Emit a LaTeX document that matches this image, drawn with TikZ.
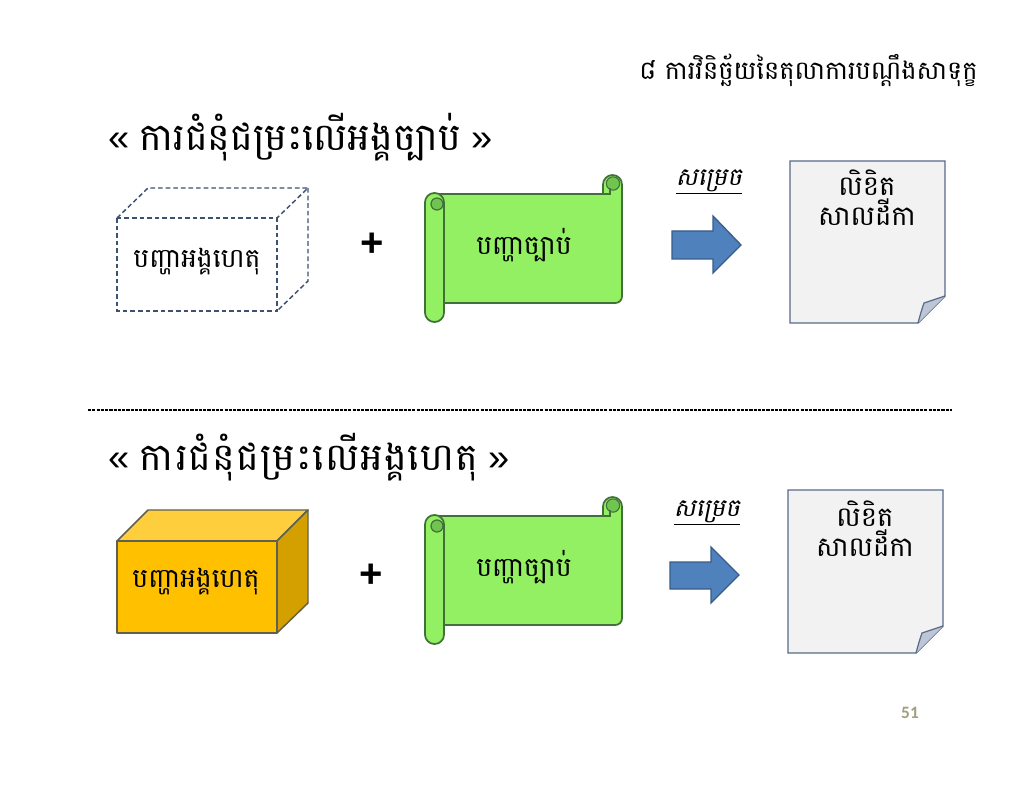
\documentclass[tikz,border=0pt]{standalone}
\usepackage{fontspec}
\setmainfont{Liberation Sans}
\newfontfamily\kh[Script=Khmer]{Battambang}
\newfontfamily\khit[Script=Khmer,FakeSlant=0.2]{Battambang}
\newfontfamily\pgnum{Carlito}
\definecolor{scrollfill}{RGB}{146,240,98}
\definecolor{scrolldark}{RGB}{112,196,80}
\definecolor{scrollline}{RGB}{66,112,58}
\definecolor{dashblue}{RGB}{62,82,112}
\definecolor{boxfront}{RGB}{255,192,0}
\definecolor{boxtop}{RGB}{255,206,60}
\definecolor{boxside}{RGB}{212,160,0}
\definecolor{boxline}{RGB}{96,96,80}
\definecolor{arrowfill}{RGB}{79,129,189}
\definecolor{arrowline}{RGB}{56,93,138}
\definecolor{docfill}{RGB}{242,242,242}
\definecolor{docline}{RGB}{88,106,136}
\definecolor{foldfill}{RGB}{188,198,214}
\definecolor{pagecol}{RGB}{160,160,128}
\tikzset{
  scrollsty/.style={draw=scrollline, fill=scrollfill, line width=1.3pt, line join=round},
  curlsty/.style={draw=scrollline, fill=scrolldark, line width=1.1pt},
  dashbox/.style={draw=dashblue, line width=1.1pt, dash pattern=on 3.5pt off 2.2pt},
  solidbox/.style={draw=boxline, line width=1.1pt, line join=round},
  blockarrow/.style={draw=arrowline, fill=arrowfill, line width=1pt, line join=miter},
  docsty/.style={draw=docline, fill=docfill, line width=1.1pt},
  foldsty/.style={draw=docline, fill=foldfill, line width=0.9pt},
  khtext/.style={font=\kh\fontsize{20}{24}\selectfont, inner sep=0pt},
  doctext/.style={font=\kh\fontsize{20.5}{24}\selectfont, inner sep=0pt},
  dectext/.style={font=\khit\fontsize{18.5}{22}\selectfont, inner sep=0pt},
  plustext/.style={font=\bfseries\fontsize{30}{34}\selectfont, inner sep=0pt},
  titletext/.style={font=\fontsize{28.5}{32}\selectfont, inner sep=0pt, anchor=west},
}
\begin{document}
\begin{tikzpicture}[x=0.75pt, y=-0.75pt]
\useasboundingbox (0,0) rectangle (1024,791);
\fill[white] (0,0) rectangle (1024,791);

% header
\node[font=\kh\fontsize{19.2}{22}\selectfont, inner sep=0pt, anchor=east] (header) at (978,70) {៨ ការវិនិច្ឆ័យនៃតុលាការបណ្តឹងសាទុក្ខ};

% titles
\node[titletext] (title1) at (108,137) {« {\kh ការជំនុំជម្រះលើអង្គច្បាប់} »};
\node[titletext] (title2) at (108,457) {« {\kh\addfontfeature{LetterSpace=3} ការជំនុំជម្រះលើអង្គហេតុ} »};

% separator
\coordinate (sepL) at (88,410);
\coordinate (sepR) at (952,410);
\draw[black, line width=1.1pt, dash pattern=on 2.4pt off 0.8pt] (sepL) -- (sepR);

% ---------- top row ----------
% dashed 3D box
\draw[dashbox] (117,218) rectangle (277,311);
\draw[dashbox] (117,218) -- (148,188) -- (308,188) -- (277,218);
\draw[dashbox] (308,188) -- (308,281) -- (277,311);
\node[khtext] (fact1) at (197,262) {បញ្ហាអង្គហេតុ};

\node[plustext] (plus1) at (372,245) {+};

% scroll
\begin{scope}
\draw[scrollsty] (434,194) -- (603,194) -- (603,184.5) arc[start angle=180, end angle=360, radius=9.5] [rounded corners=5pt] -- (622,303) -- (434,303) [sharp corners] -- cycle;
\draw[curlsty, line width=0.8pt] (613,183.5) circle[radius=5pt];
\draw[scrollline, line width=1pt] (603,194) -- (610,194) -- (610,188);
\draw[scrollsty, rounded corners=7pt] (425,193) rectangle (444,322);
\draw[curlsty, line width=0.9pt] (437,204) circle[radius=4.5pt];
\end{scope}
\node[khtext] (law1) at (524,245) {បញ្ហាច្បាប់};

% arrow
\draw[blockarrow] (672,231) -- (713,231) -- (713,216) -- (741,245) -- (713,273) -- (713,259) -- (672,259) -- cycle;
\node[dectext] (dec1) at (709,182) {\underline{សម្រេច}};

% document
\draw[docsty] (790,161) -- (945,161) -- (945,296) -- (918,323) -- (790,323) -- cycle;
\draw[foldsty] (945,296) .. controls (935,300) .. (924,303) .. controls (921,312) .. (918,323);
\node[doctext] (doc1a) at (867,183) {លិខិត};
\node[doctext] (doc1b) at (867,212) {សាលដីកា};

% ---------- bottom row ----------
% yellow 3D box
\draw[solidbox, fill=boxtop] (117,541) -- (148,510) -- (308,510) -- (277,541) -- cycle;
\draw[solidbox, fill=boxside] (277,541) -- (308,510) -- (308,603) -- (277,633) -- cycle;
\draw[solidbox, fill=boxfront] (117,541) rectangle (277,633);
\node[khtext] (fact2) at (196,582) {បញ្ហាអង្គហេតុ};

\node[plustext] (plus2) at (371,576) {+};

% scroll
\begin{scope}[yshift=-322*0.75pt]
\draw[scrollsty] (434,194) -- (603,194) -- (603,184.5) arc[start angle=180, end angle=360, radius=9.5] [rounded corners=5pt] -- (622,303) -- (434,303) [sharp corners] -- cycle;
\draw[curlsty, line width=0.8pt] (613,183.5) circle[radius=5pt];
\draw[scrollline, line width=1pt] (603,194) -- (610,194) -- (610,188);
\draw[scrollsty, rounded corners=7pt] (425,193) rectangle (444,322);
\draw[curlsty, line width=0.9pt] (437,204) circle[radius=4.5pt];
\end{scope}
\node[khtext] (law2) at (524,567) {បញ្ហាច្បាប់};

% arrow
\draw[blockarrow] (670,562) -- (711,562) -- (711,547) -- (739,575) -- (711,603) -- (711,589) -- (670,589) -- cycle;
\node[dectext] (dec2) at (707,513) {\underline{សម្រេច}};

% document
\draw[docsty] (788,490) -- (943,490) -- (943,626) -- (916,653) -- (788,653) -- cycle;
\draw[foldsty] (943,626) .. controls (933,630) .. (922,633) .. controls (919,642) .. (916,653);
\node[doctext] (doc2a) at (865,514) {លិខិត};
\node[doctext] (doc2b) at (865,543) {សាលដីកា};

% page number
\node[font=\pgnum\bfseries\fontsize{13}{15}\selectfont, text=pagecol, inner sep=0pt] (page) at (910,713) {51};
\end{tikzpicture}
\end{document}
